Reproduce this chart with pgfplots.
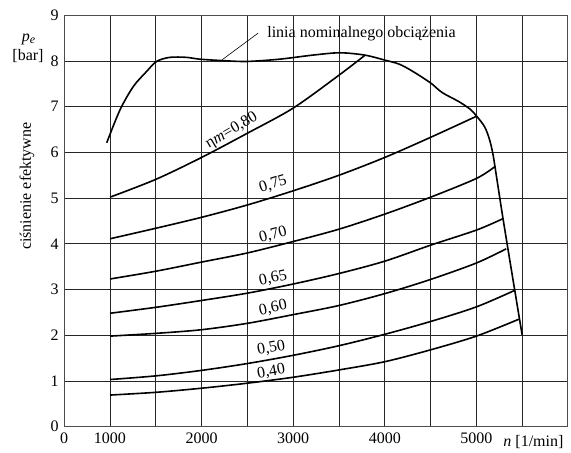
\documentclass[border=0pt]{standalone}
\usepackage{fontspec}
\setmainfont{Liberation Serif}
\usepackage{pgfplots}
\pgfplotsset{compat=1.18}
\begin{document}
\begin{tikzpicture}
\useasboundingbox (-64.2pt,-26.4pt) rectangle (506.8pt,426.6pt);
\begin{axis}[
  scale only axis, width=503.8pt, height=411.3pt,
  anchor=south west, at={(0,0)},
  xmin=500, xmax=6000, ymin=0, ymax=9,
  xtick={500,1000,2000,3000,4000,5000},
  xticklabels={0,1000,2000,3000,4000,5000},
  minor xtick={1500,2500,3500,4500,5500},
  ytick={0,1,...,9},
  grid=both,
  major grid style={black!85, line width=0.7pt},
  minor grid style={black!85, line width=0.7pt},
  major tick length=0pt, minor tick length=0pt,
  axis line style={black!70, line width=1pt},
  font=\fontsize{16}{19}\selectfont,
  /pgf/number format/assume math mode=true,
  xticklabel style={yshift=-3pt},
  yticklabel style={xshift=-2pt},
  clip=false,
  cycle list={{black,solid,no markers}},
  every axis plot/.append style={line width=1.6pt, smooth, tension=0.5},
]
% nominal load line
\addplot coordinates {
(964,6.21) (1109,6.93) (1254,7.44) (1399,7.77) (1508,7.99) (1652,8.08)
(1834,8.08) (1980,8.04) (2219,8.01) (2491,7.99) (2852,8.04) (3217,8.13)
(3508,8.18) (3780,8.13) (4000,8.02) (4159,7.93) (4308,7.77) (4500,7.52)
(4626,7.31) (4810,7.11) (4935,6.94) (5000,6.80) (5090,6.56) (5145,6.27)
(5181,5.96) (5205,5.66) (5290,4.56) (5400,3.21) (5500,2.0)};
% eta curves
\addplot coordinates {(1000,5.02) (1500,5.41) (2000,5.89) (2500,6.42) (3000,6.97) (3500,7.69) (3780,8.12)};
\addplot coordinates {(1000,4.11) (1500,4.34) (2000,4.58) (2500,4.85) (3000,5.16) (3500,5.50) (4000,5.89) (4500,6.33) (5000,6.79)};
\addplot coordinates {(1000,3.23) (1500,3.40) (2000,3.60) (2500,3.80) (3000,4.05) (3500,4.32) (4000,4.65) (4500,5.02) (5000,5.43) (5202,5.69)};
\addplot coordinates {(1000,2.48) (1500,2.61) (2000,2.76) (2500,2.92) (3000,3.12) (3500,3.35) (4000,3.62) (4500,3.97) (5000,4.30) (5290,4.55)};
\addplot coordinates {(1000,1.98) (1500,2.04) (2000,2.12) (2500,2.26) (3000,2.45) (3500,2.65) (4000,2.91) (4500,3.22) (5000,3.58) (5326,3.89)};
\addplot coordinates {(1000,1.03) (1500,1.11) (2000,1.23) (2500,1.38) (3000,1.56) (3500,1.77) (4000,2.02) (4500,2.30) (5000,2.62) (5417,2.98)};
\addplot coordinates {(1000,0.69) (1500,0.75) (2000,0.84) (2500,0.95) (3000,1.08) (3500,1.24) (4000,1.42) (4500,1.68) (5000,1.98) (5464,2.35)};
% labels
\node[rotate=30] at (axis cs:2330,6.47) {η\textit{m}=0,80};
\node[rotate=17] at (axis cs:2780,5.30) {0,75};
\node[rotate=15] at (axis cs:2780,4.19) {0,70};
\node[rotate=12] at (axis cs:2780,3.24) {0,65};
\node[rotate=12] at (axis cs:2780,2.59) {0,60};
\node[rotate=10] at (axis cs:2760,1.71) {0,50};
\node[rotate=10] at (axis cs:2760,1.20) {0,40};
\node[anchor=base west] at (axis cs:2679,8.52) {linia nominalnego obciążenia};
\draw[line width=0.6pt] (axis cs:2226,8.03) -- (axis cs:2617,8.61);
% axis labels
\node[rotate=90] at ([xshift=-37.2pt]axis cs:500,5.26) {ciśnienie efektywne};
\node at ([xshift=-35.7pt]axis cs:500,8.48) {\textit{p}\raisebox{-0.35ex}{\fontsize{12}{14}\selectfont\textit{e}}};
\node at ([xshift=-36.2pt]axis cs:500,8.11) {[bar]};
\node[anchor=base east] at ([yshift=-20pt,xshift=-1pt]axis cs:6000,0) {\textit{n} [1/min]};
\end{axis}
\end{tikzpicture}
\end{document}
